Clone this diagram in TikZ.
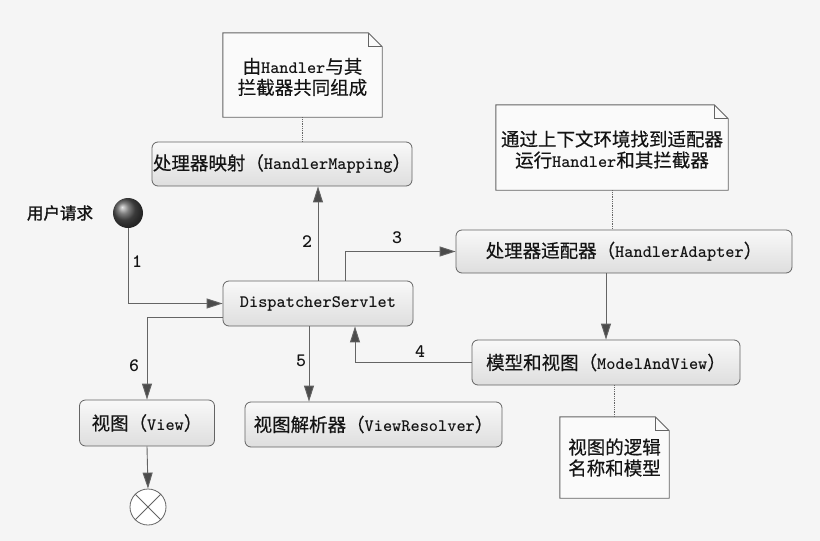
\documentclass[tikz,border=0pt]{standalone}
\usepackage{fontspec}
\newfontfamily\cjk[FakeBold=0.4]{Noto Sans CJK SC}
\newfontfamily\cjkb[FakeBold=1.5]{Noto Sans CJK SC}
\usetikzlibrary{arrows.meta,calc,shadings}
\newcommand\zh[1]{{\cjk #1}}
\newcommand\lt[1]{{\fontsize{17.5}{21}\selectfont\ttfamily\bfseries #1}}
\definecolor{bgc}{RGB}{245,245,245}
\definecolor{linec}{RGB}{100,100,100}
\definecolor{tipc}{RGB}{75,75,75}
\definecolor{txt}{RGB}{20,20,20}
\tikzset{
  stepbox/.style={draw=linec, line width=0.8pt, rounded corners=6pt, top color=gray!5, bottom color=gray!26,
    text=txt, font=\fontsize{18.5}{21}\selectfont, inner sep=0pt},
  notebox/.style={inner sep=0pt, text=txt, font=\fontsize{18.5}{21}\selectfont, align=center},
  arr/.style={draw=linec, line width=0.9pt, -{Triangle[length=16pt,width=10pt,fill=tipc]}},
  dotc/.style={draw=linec, line width=0.8pt, densely dotted},
  lbl/.style={text=txt, font=\fontsize{19}{22}\selectfont\ttfamily\bfseries},
}
\begin{document}
\begin{tikzpicture}[x=1pt,y=-1pt]
\fill[bgc] (0,0) rectangle (820,541);
\useasboundingbox (0,0) rectangle (820,541);

% nodes
\node[notebox, minimum width=159pt, minimum height=84pt] (note1) at (302.5,75) {};
\node[stepbox, minimum width=260pt, minimum height=44pt] (hm) at (282,164) {\zh{处理器映射（}\lt{HandlerMapping}\zh{）}};
\node[text=txt, font=\cjkb\fontsize{16.5}{18}\selectfont] (user) at (60,213) {用户请求};
\node[circle, minimum size=30pt, inner sep=0pt, ball color=gray!65!black, draw=none] (start) at (128,213) {};
\node[stepbox, minimum width=190pt, minimum height=45pt] (ds) at (318,303.5) {\lt{DispatcherServlet}};
\node[notebox, minimum width=232pt, minimum height=85pt] (note2) at (612,147.5) {};
\node[stepbox, minimum width=336pt, minimum height=43pt] (ha) at (624,251.5) {\zh{处理器适配器（}\lt{HandlerAdapter}\zh{）}};
\node[stepbox, minimum width=268pt, minimum height=45pt] (mav) at (606,362.5) {\zh{模型和视图（}\lt{ModelAndView}\zh{）}};
\node[notebox, minimum width=109pt, minimum height=81pt] (note3) at (614.5,457.5) {};
\node[stepbox, minimum width=257pt, minimum height=45pt] (vr) at (373.5,424.5) {\zh{视图解析器（}\lt{ViewResolver}\zh{）}};
\node[stepbox, minimum width=135pt, minimum height=46pt] (view) at (147,423) {\zh{视图（}\lt{View}\zh{）}};
\node[circle, minimum size=36pt, inner sep=0pt, draw=linec, line width=0.8pt, fill=white] (end) at (148,507) {};
\draw[linec, line width=0.8pt] (end.north west) -- (end.south east) (end.north east) -- (end.south west);

% note outlines with folded corner
\foreach \n in {note1,note2,note3}{
  \draw[linec, line width=0.9pt, fill=white, fill opacity=0.5]
    (\n.north west) -- ([xshift=-14pt]\n.north east) -- ([yshift=-14pt]\n.north east)
    -- (\n.south east) -- (\n.south west) -- cycle;
  \draw[linec, line width=0.8pt] ([xshift=-14pt]\n.north east) -- ([xshift=-14pt,yshift=-14pt]\n.north east) -- ([yshift=-14pt]\n.north east);
}
\node[notebox] (t1) at ([yshift=-2pt]note1.center) {\zh{由}\lt{Handler}\zh{与其}\\\zh{拦截器共同组成}};
\node[notebox] (t2) at ([yshift=-2pt]note2.center) {\zh{通过上下文环境找到适配器}\\\zh{运行}\lt{Handler}\zh{和其拦截器}};
\node[notebox] (t3) at (note3) {\zh{视图的逻辑}\\\zh{名称和模型}};

% dotted anchors
\draw[dotc] (note1.south) -- (note1.south |- hm.north);
\draw[dotc] (note2.south) -- (note2.south |- ha.north);
\draw[dotc] (note3.north |- mav.south) -- (note3.north);

% connectors
\draw[arr] (start.south) |- (ds.west);
\draw[arr] (ds.north) -- (ds.north |- hm.south);
\draw[arr] ([xshift=27pt]ds.north) |- (ha.west);
\draw[arr] (mav.north |- ha.south) -- (mav.north);
\draw[arr] (mav.west) -| ([xshift=37pt]ds.south);
\draw[arr] ([xshift=-9pt]ds.south) -- ([xshift=-9pt]ds.south |- vr.north);
\draw[arr] ([yshift=-13.5pt]ds.west) -| (view.north);
\draw[arr] (view.south) -- (end.north);

% labels
\node[lbl] (l1) at (137,262) {1};
\node[lbl] (l2) at (307,242) {2};
\node[lbl] (l3) at (397,238) {3};
\node[lbl] (l4) at (420,352) {4};
\node[lbl] (l5) at (301,361) {5};
\node[lbl] (l6) at (134,366) {6};
\end{tikzpicture}
\end{document}
